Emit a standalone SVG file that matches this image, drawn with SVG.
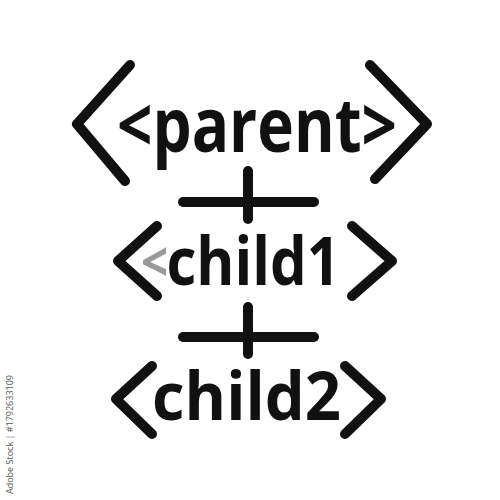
<svg xmlns="http://www.w3.org/2000/svg" width="500" height="500" viewBox="0 0 500 500">
<style>
.br{fill:none;stroke:#111;stroke-width:10;stroke-linecap:round;stroke-linejoin:round}
.ln{fill:none;stroke:#111;stroke-width:10;stroke-linecap:round}
.t{font-family:"Open Sans","Noto Sans",sans-serif;font-weight:700;fill:#111}
.wm{font-family:"Open Sans","Liberation Sans",sans-serif;font-size:9px;fill:#555}
</style>
<rect width="500" height="500" fill="#fff"/>
<g id="parent">
<polyline class="br" points="130,65 77,124 125,181"/>
<polyline class="br" points="370,65 427,124 375,179"/>
<text class="t" x="117" y="152" font-size="76" textLength="280" lengthAdjust="spacingAndGlyphs">&lt;parent&gt;</text>
</g>
<g id="child1">
<polyline class="br" points="157,226 118,261 157,296"/>
<polyline class="br" points="352,226 392,261 352,296"/>
<text class="t" transform="translate(141,285) scale(0.88,1)" x="0" y="0"><tspan font-size="54" dy="-4" style="fill:#999">&lt;</tspan><tspan font-size="66" dy="4" dx="-2">child1</tspan></text>
</g>
<g id="child2">
<polyline class="br" points="152,366 116,399 152,434"/>
<polyline class="br" points="345,366 381,399 345,434"/>
<text class="t" x="152" y="420" font-size="66" textLength="189" lengthAdjust="spacingAndGlyphs">child2</text>
</g>
<g id="connectors">
<line class="ln" x1="248" y1="171" x2="248" y2="219"/>
<line class="ln" x1="183" y1="202" x2="314" y2="202"/>
<line class="ln" x1="248" y1="307" x2="248" y2="354"/>
<line class="ln" x1="183" y1="337" x2="314" y2="337"/>
</g>
<text class="wm" transform="translate(13,494) rotate(-90)">Adobe Stock | #1792633109</text>
</svg>
